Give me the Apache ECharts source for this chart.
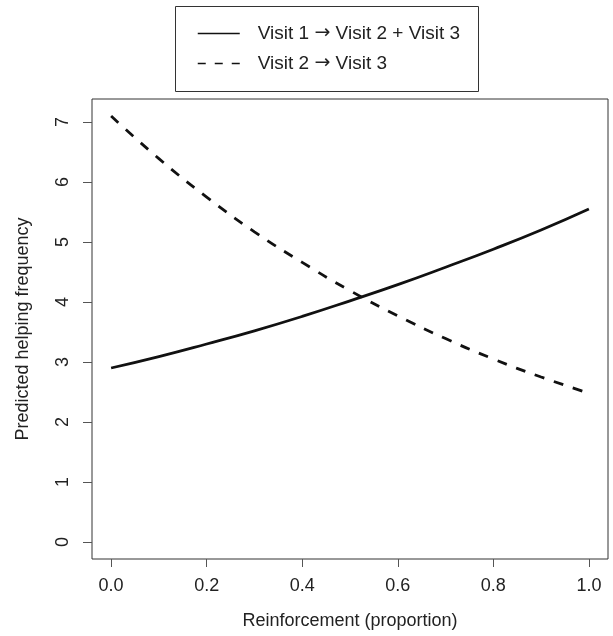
<!DOCTYPE html>
<html>
<head>
<meta charset="utf-8">
<script src="https://cdn.jsdelivr.net/npm/echarts@6/dist/echarts.min.js"></script>
<style>
  html, body { margin: 0; padding: 0; background: #fff; }
  #chart { width: 613px; height: 636px; }
</style>
</head>
<body>
<div id="chart"></div>
<script>
// values
const reinforcement = [0.0, 0.1, 0.2, 0.3, 0.4, 0.5, 0.6, 0.7, 0.8, 0.9, 1.0]
const visit1to23 = [2.90, 3.09, 3.30, 3.52, 3.76, 4.02, 4.29, 4.58, 4.88, 5.20, 5.55]
const visit2to3 = [7.10, 6.39, 5.75, 5.17, 4.66, 4.19, 3.77, 3.39, 3.05, 2.75, 2.48]
const xTicks = [0, 0.2, 0.4, 0.6, 0.8, 1.0]
const yTicks = [0, 1, 2, 3, 4, 5, 6, 7]

const font = 'Liberation Sans, Arial, sans-serif'
const ink = '#222'
const nameSolid = 'Visit 1 \u2192 Visit 2 + Visit 3'
const nameDashed = 'Visit 2 \u2192 Visit 3'

const div = document.getElementById('chart')
const myChart = echarts.init(div)

myChart.setOption({
    animation: false,
    textStyle: { fontFamily: font },
    grid: {
        left: 92,
        top: 99,
        right: 5,
        bottom: 77,
        outerBoundsMode: 'none',
        containLabel: false,
        show: true,
        borderColor: '#333',
        borderWidth: 1
    },
    graphic: [
        {
            type: 'rect',
            shape: { x: 175.5, y: 6.5, width: 303, height: 85 },
            style: { fill: 'none', stroke: '#333', lineWidth: 1 }
        }
    ],
    legend: {
        orient: 'vertical',
        left: 192,
        top: 19,
        padding: 5,
        itemWidth: 42,
        itemHeight: 14,
        itemGap: 11,
        itemStyle: { opacity: 0 },
        lineStyle: { width: 1.5 },
        formatter: (name) => name.replace('\u2192', '{a|\u2192}'),
        textStyle: {
            fontSize: 19,
            color: ink,
            padding: [0, 0, 0, 13],
            rich: { a: { fontFamily: 'DejaVu Sans', fontSize: 19, color: ink } }
        },
        data: [
            { name: nameSolid },
            { name: nameDashed, lineStyle: { type: [8, 9], width: 1.5 } }
        ]
    },
    xAxis: {
        type: 'value',
        min: -0.04,
        max: 1.04,
        name: 'Reinforcement (proportion)',
        nameLocation: 'middle',
        nameGap: 53,
        nameMoveOverlap: false,
        nameTextStyle: { fontSize: 18, color: ink },
        axisLine: { show: false, onZero: false },
        splitLine: { show: false },
        axisTick: { show: true, length: 8, lineStyle: { color: '#555' }, customValues: xTicks },
        axisLabel: {
            fontSize: 18,
            color: ink,
            margin: 18,
            customValues: xTicks,
            formatter: (v) => v.toFixed(1)
        }
    },
    yAxis: {
        type: 'value',
        min: -0.284,
        max: 7.384,
        name: 'Predicted helping frequency',
        nameLocation: 'middle',
        nameGap: 60,
        nameMoveOverlap: false,
        nameTextStyle: { fontSize: 18, color: ink },
        axisLine: { show: false, onZero: false },
        splitLine: { show: false },
        axisTick: { show: true, length: 9, lineStyle: { color: '#555' }, customValues: yTicks },
        axisLabel: {
            fontSize: 18,
            color: ink,
            margin: 20,
            rotate: 90,
            customValues: yTicks
        }
    },
    series: [
        {
            name: nameSolid,
            type: 'line',
            smooth: true,
            symbol: 'none',
            lineStyle: { color: '#111', width: 2.8 },
            itemStyle: { color: '#111' },
            data: reinforcement.map((x, i) => [x, visit1to23[i]])
        },
        {
            name: nameDashed,
            type: 'line',
            smooth: true,
            symbol: 'none',
            lineStyle: { color: '#111', width: 2.8, type: [10, 10] },
            itemStyle: { color: '#111' },
            data: reinforcement.map((x, i) => [x, visit2to3[i]])
        }
    ]
})
</script>
</body>
</html>
